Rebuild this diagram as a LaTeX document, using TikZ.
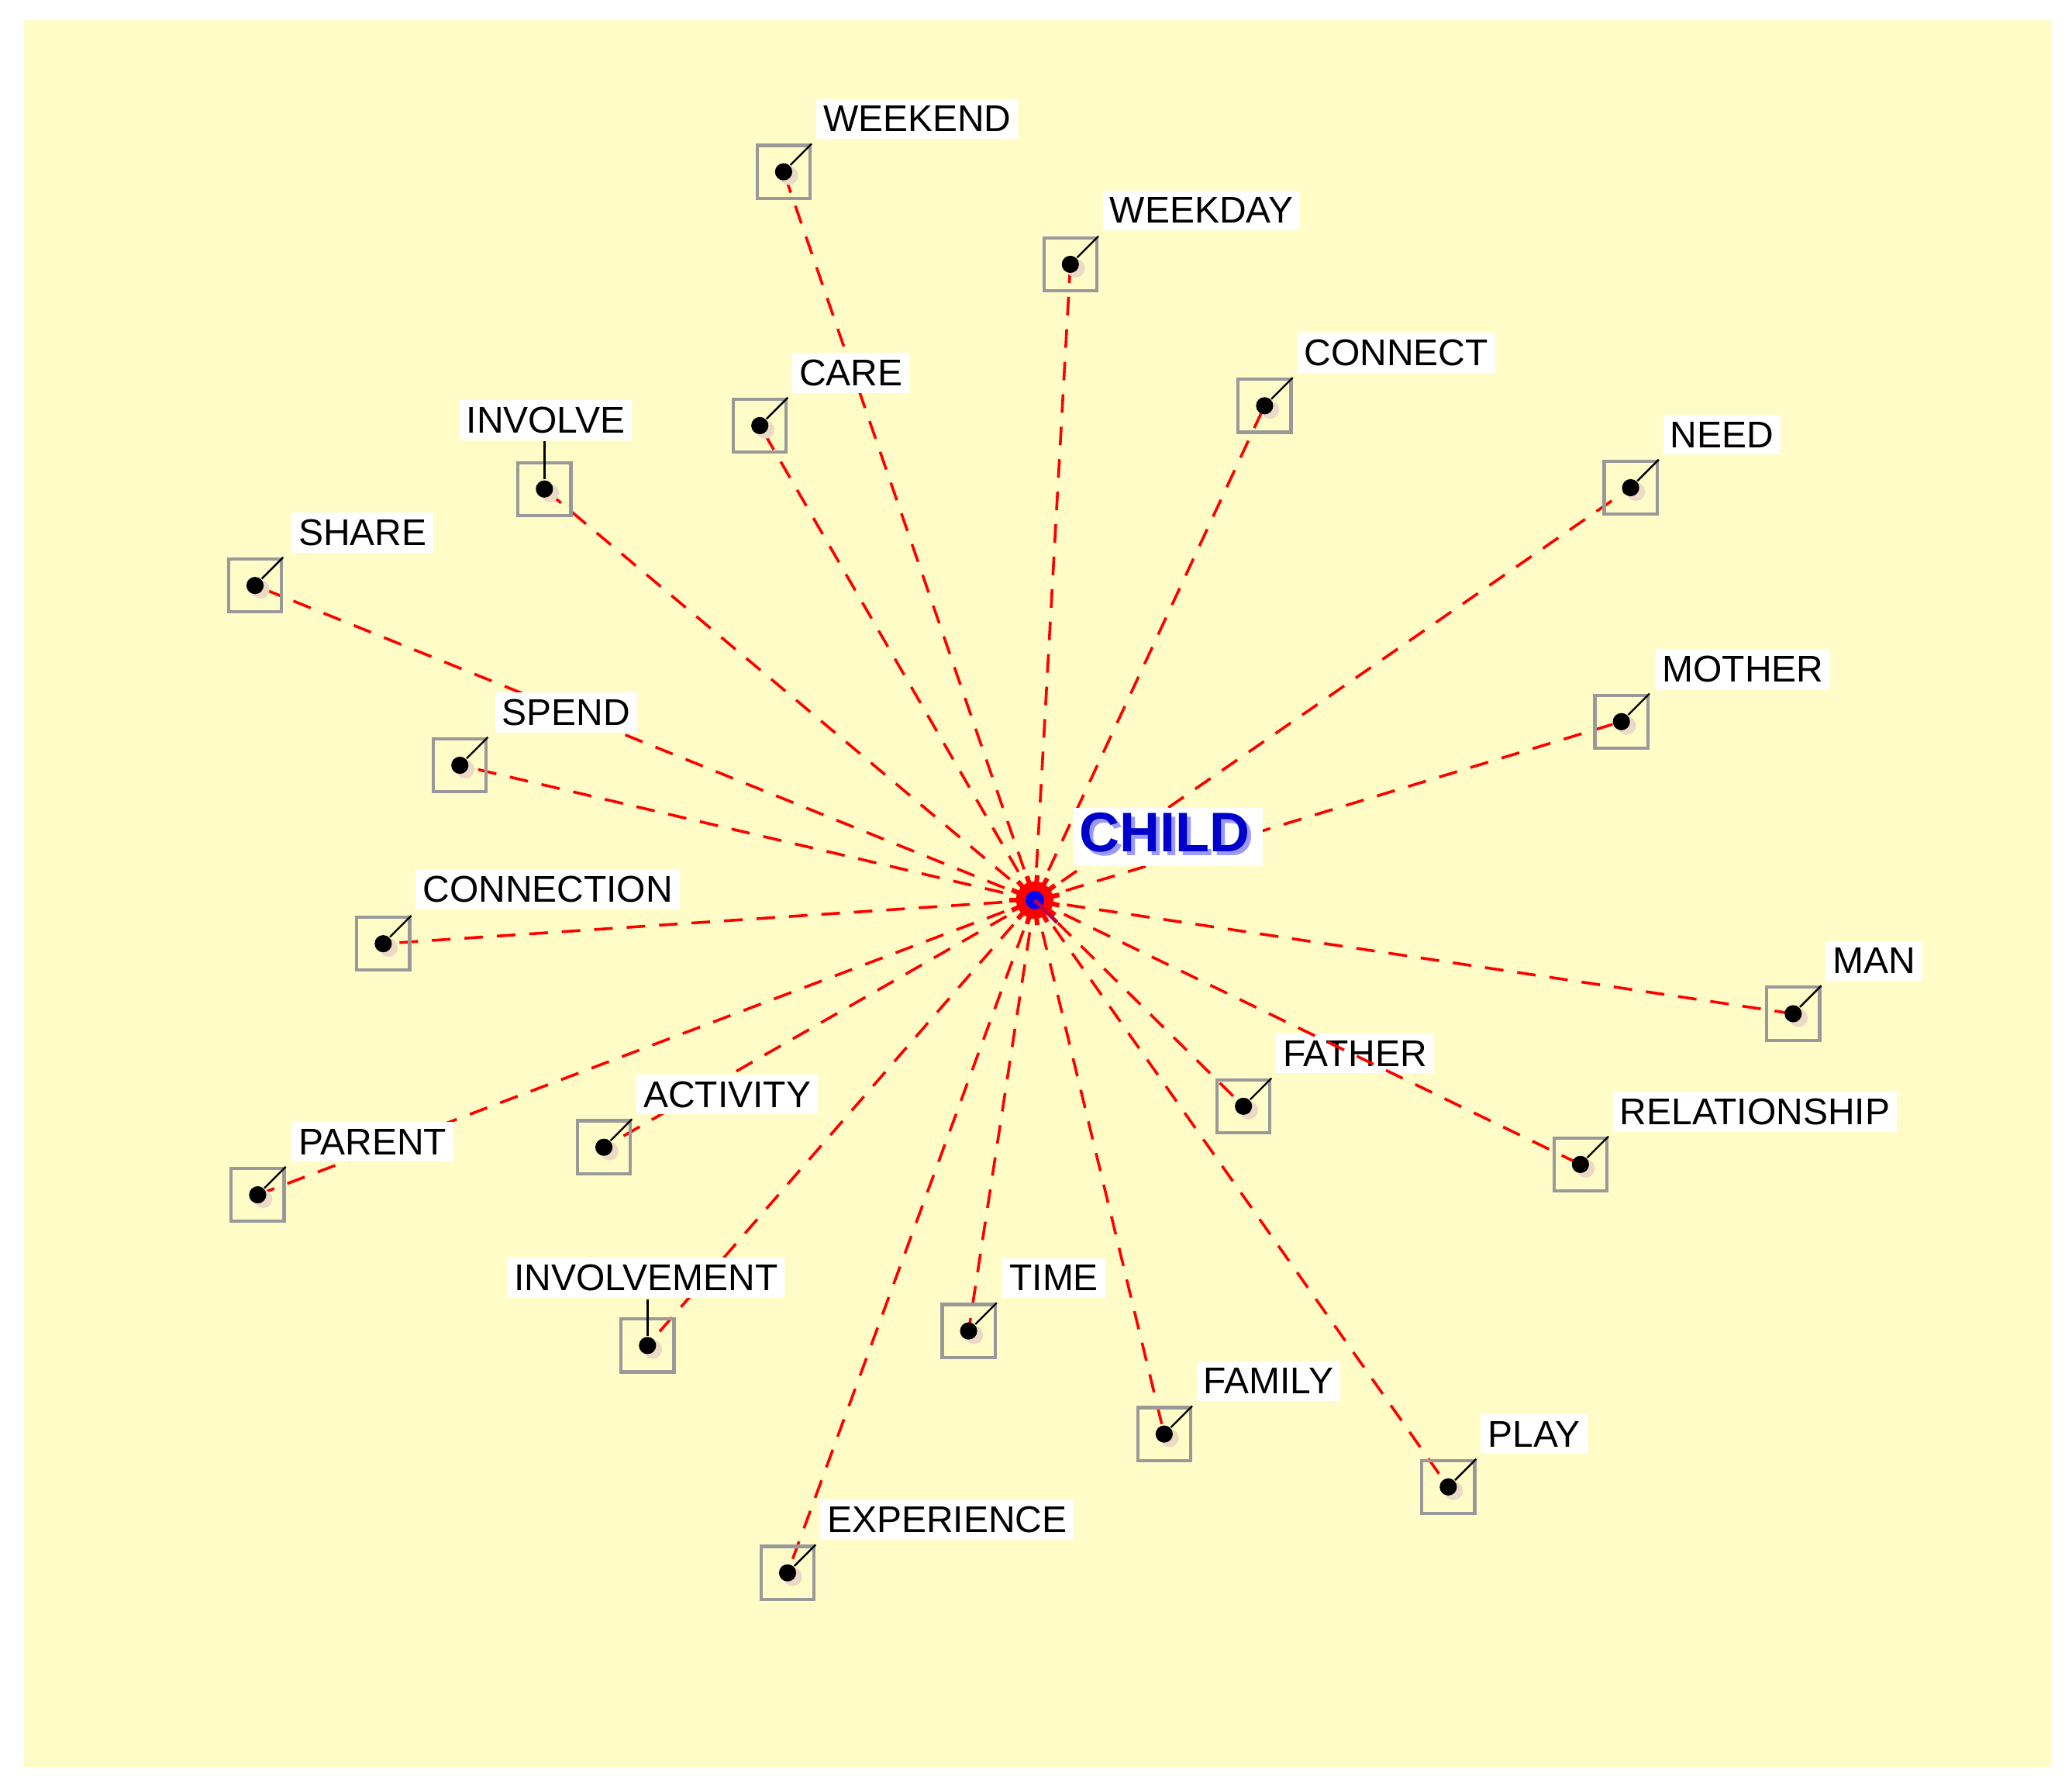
\documentclass[tikz,border=0pt]{standalone}
\usepackage{fontspec}
\setmainfont{Liberation Sans}
\begin{document}
\begin{tikzpicture}[x=0.01cm,y=-0.01cm,
  box/.style={draw=gray!80,line width=0.7pt,minimum size=0.4cm,inner sep=0pt,fill=none},
  dot/.style={circle,fill=black,minimum size=0.13cm,inner sep=0pt},
  lab/.style={fill=white,inner sep=1.5pt,anchor=west,font=\fontsize{8}{9}\selectfont},
  edge/.style={red,dashed,dash pattern=on 4pt off 3pt,line width=0.6pt}]
\definecolor{bg}{HTML}{FFFCC8}
\useasboundingbox (0,0) rectangle (1568,1355);
\fill[white] (0,0) rectangle (1568,1355);
\fill[bg] (18,15) rectangle (1553,1337);
\coordinate (c) at (783,681);
\foreach \n/\x/\y/\lx/\ly/\t in {
 weekend/593/130/617/90/WEEKEND, weekday/810/200/834/159/WEEKDAY,
 care/575/322/599/282/CARE, connect/957/307/981/267/CONNECT,
 involve/412/370/347/318/INVOLVE, need/1234/369/1258/329/NEED,
 share/193/443/220/403/SHARE, mother/1227/546/1252/506/MOTHER,
 spend/348/579/374/539/SPEND, connection/290/714/314/673/CONNECTION,
 man/1357/767/1381/727/MAN, father/941/837/965/797/FATHER,
 relationship/1196/881/1220/841/RELATIONSHIP, activity/457/868/481/828/ACTIVITY,
 parent/195/904/220/864/PARENT, involvement/490/1018/383/967/INVOLVEMENT,
 time/733/1007/758/967/TIME, family/881/1085/905/1045/FAMILY,
 play/1096/1125/1120/1085/PLAY, experience/596/1190/620/1150/EXPERIENCE}{
 \draw[edge] (c) -- (\x,\y);
 \fill[brown!30] (\x+4,\y+3) circle (7);
 \node[dot] (d-\n) at (\x,\y) {};
 \node[box] (b-\n) at (\x,\y) {};
 \node[lab] (l-\n) at (\lx,\ly) {\t};
}
\draw (d-weekend) -- (b-weekend.north east);
\draw (d-weekday) -- (b-weekday.north east);
\draw (d-care) -- (b-care.north east);
\draw (d-connect) -- (b-connect.north east);
\draw (d-need) -- (b-need.north east);
\draw (d-share) -- (b-share.north east);
\draw (d-mother) -- (b-mother.north east);
\draw (d-spend) -- (b-spend.north east);
\draw (d-connection) -- (b-connection.north east);
\draw (d-man) -- (b-man.north east);
\draw (d-father) -- (b-father.north east);
\draw (d-relationship) -- (b-relationship.north east);
\draw (d-activity) -- (b-activity.north east);
\draw (d-parent) -- (b-parent.north east);
\draw (d-time) -- (b-time.north east);
\draw (d-family) -- (b-family.north east);
\draw (d-play) -- (b-play.north east);
\draw (d-experience) -- (b-experience.north east);
\draw (d-involve) -- (l-involve.south -| d-involve);
\draw (d-involvement) -- (l-involvement.south -| d-involvement);
% star
\foreach \a in {0,12,...,359}{
  \draw[red,line width=1pt] (c) -- ++(\a:{14+5*mod(\a,24)/12});
}
\node[circle,fill=blue,minimum size=0.14cm,inner sep=0pt] (cd) at (c) {};
\draw[purple,line width=0.8pt] (c) -- ++(45:24);
\node[fill=white,inner sep=2pt,anchor=west,text=blue!40!white] at (812,633) {\fontsize{12}{14}\selectfont\bfseries CHILD};
\node[inner sep=2pt,anchor=west,text=blue!80!black] (child) at (809,630) {\fontsize{12}{14}\selectfont\bfseries CHILD};
\end{tikzpicture}
\end{document}
